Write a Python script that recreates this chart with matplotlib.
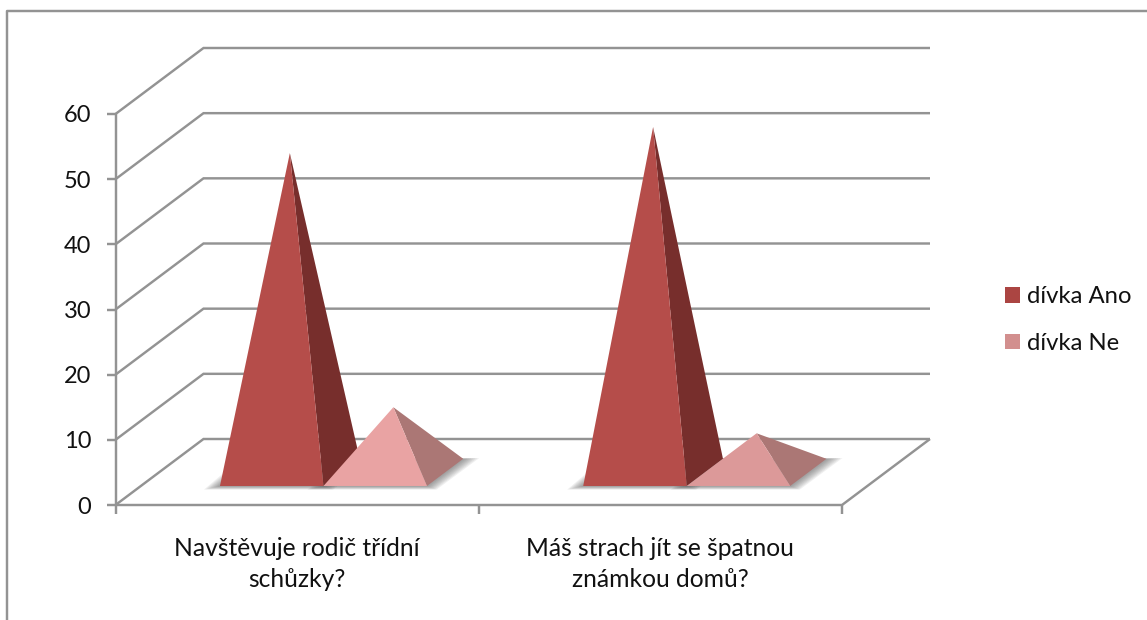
import matplotlib
matplotlib.use("Agg")
import matplotlib.pyplot as plt
from matplotlib.lines import Line2D
from matplotlib.patches import Patch, Polygon

plt.rcParams['font.family'] = ['Lato', 'DejaVu Sans']

categories = ["Navštěvuje rodič třídní\nschůzky?", "Máš strach jít se špatnou\nznámkou domů?"]
divka_ano = [49, 53]
divka_ne = [10, 6]
y_ticks = [0, 10, 20, 30, 40, 50, 60]
legend_labels = ["dívka Ano", "dívka Ne"]

W, H = 1147, 620
GREY = "#939393"
TEXT = "#111111"
# axis box in pixels of the picture
X0, X1, Y0, Y60 = 115.5, 842.0, 505.0, 114.0
PX_X = (X1 - X0) / 2
PX_Y = (Y0 - Y60) / 60
# depth of the 3d box, in data units
DX = 88 / PX_X
DY = 66 / PX_Y

fig = plt.figure(figsize=(W / 100, H / 100), dpi=100, facecolor="white")
ax = fig.add_axes([X0 / W, 1 - Y0 / H, (X1 - X0) / W, (Y0 - Y60) / H])
ax.set_xlim(0, 2)
ax.set_ylim(0, 60)
ax.axis("off")


def pt(x, v, t=0.0):
    # category position, value, depth 0-1 -> flat position
    return (x + DX * t, v + DY * t)


def line(points, **kw):
    xs, ys = zip(*points)
    ax.add_line(Line2D(xs, ys, color=GREY, lw=1.75, clip_on=False, solid_capstyle="butt",
                       solid_joinstyle="miter", **kw))


# chart frame
fig.add_artist(Line2D([7 / W, 7 / W, 1], [0, 1 - 11 / H, 1 - 11 / H], color=GREY, lw=1.75))

# walls, floor and axes
for v in y_ticks:
    line([pt(0, v), pt(0, v, 1), pt(2, v, 1)])
    line([(-9 / PX_X, v), (0, v)])
    ax.text(-24 / PX_X, v - 2 / PX_Y, str(v), ha="right", va="center", fontsize=17, color=TEXT,
            clip_on=False)
line([pt(0, 0), pt(0, 60)])
line([pt(0, 0), pt(2, 0), pt(2, 0, 1)])
for x in [0, 1, 2]:
    line([(x, 0), (x, -9 / PX_Y)])

for i, cat in enumerate(categories):
    ax.text(i + 0.5, -(564 - Y0) / PX_Y, cat, ha="center", va="center", fontsize=17.7,
            color=TEXT, linespacing=1.45, clip_on=False)

# pyramids
BAR_W = 103.5 / PX_X
GAP = (1 - 2 * BAR_W) / 2 + 1 / PX_X
T0, T1 = 0.288, 0.70
series = [
    (divka_ano, ["#b54d4a", "#b54d4a"], ["#772e2c", "#772e2c"]),
    (divka_ne, ["#e9a3a3", "#dc9999"], ["#ab7775", "#ab7775"]),
]
for s, (values, fronts, sides) in enumerate(series):
    for c, v in enumerate(values):
        left = c + GAP + s * BAR_W
        right = left + BAR_W
        apex = pt((left + right) / 2, v, (T0 + T1) / 2)
        base = [pt(left, 0, T0), pt(right, 0, T0), pt(right, 0, T1), pt(left, 0, T1)]
        # soft shadow on the floor
        for k in range(1, 9):
            e = k * 2.0 / PX_X
            low = k * 0.45 / PX_Y
            shadow = [(base[0][0] - e, base[0][1] - low), (base[1][0] + e * 0.6, base[1][1] - low),
                      (base[2][0] + e, base[2][1] + low * 0.2), (base[3][0] - e, base[3][1])]
            ax.add_patch(Polygon(shadow, closed=True, fc="#555555", ec="none", alpha=0.09,
                                 zorder=2, clip_on=False))
        ax.add_patch(Polygon([base[1], base[2], apex], closed=True, fc=sides[c], ec="none",
                             zorder=3 + s * 2, clip_on=False))
        ax.add_patch(Polygon([base[0], base[1], apex], closed=True, fc=fronts[c], ec="none",
                             zorder=3 + s * 2, clip_on=False))

handles = [Patch(fc="#ab4542", ec="none"), Patch(fc="#d28f8e", ec="none")]
fig.legend(handles, legend_labels, loc="center left", bbox_to_anchor=(1000 / W, 1 - 320 / H),
           frameon=False, fontsize=17.2, handlelength=0.63, handleheight=0.63, handletextpad=0.29,
           labelspacing=1.07, labelcolor=TEXT, borderpad=0.2, borderaxespad=0)

fig.savefig("out.png", dpi=100)
